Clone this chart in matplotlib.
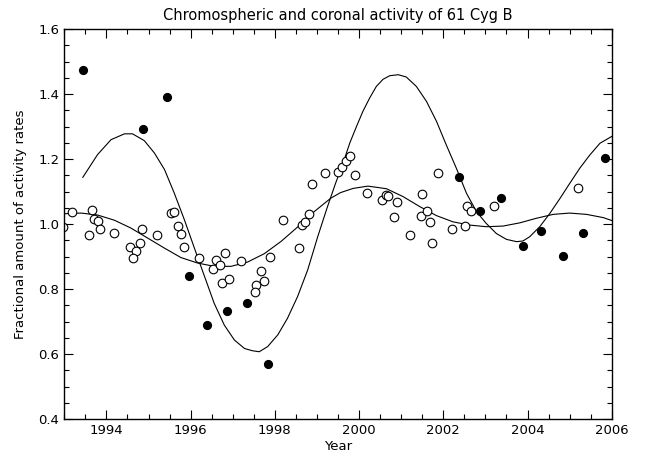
import numpy as np
import matplotlib.pyplot as plt
from matplotlib.ticker import MultipleLocator

# open circles (chromospheric data)
open_year = [1992.96, 1993.19, 1993.65, 1993.58, 1993.71, 1993.79, 1993.85, 1994.19, 1994.55, 1994.70,
             1994.62, 1994.80, 1994.85, 1995.20, 1995.54, 1995.61, 1995.69, 1995.77, 1995.85, 1996.20,
             1996.54, 1996.60, 1996.70, 1996.81, 1996.75, 1996.91, 1997.20, 1997.66, 1997.74, 1997.56,
             1997.54, 1997.89, 1998.19, 1998.57, 1998.65, 1998.71, 1998.80, 1998.89, 1999.20, 1999.51,
             1999.60, 1999.68, 1999.79, 1999.90, 2000.20, 2000.55, 2000.63, 2000.69, 2000.89, 2000.82,
             2001.20, 2001.50, 2001.46, 2001.61, 2001.69, 2001.74, 2001.88, 2002.20, 2002.51, 2002.57,
             2002.66, 2003.20, 2005.20]
open_val = [0.992, 1.038, 1.043, 0.966, 1.017, 1.009, 0.985, 0.973, 0.930, 0.917,
            0.895, 0.942, 0.986, 0.965, 1.033, 1.038, 0.995, 0.970, 0.929, 0.896,
            0.863, 0.888, 0.875, 0.910, 0.820, 0.831, 0.886, 0.855, 0.824, 0.814,
            0.791, 0.899, 1.014, 0.926, 0.996, 1.005, 1.031, 1.122, 1.158, 1.161,
            1.177, 1.193, 1.211, 1.152, 1.095, 1.075, 1.089, 1.087, 1.068, 1.021,
            0.965, 1.094, 1.026, 1.040, 1.006, 0.941, 1.157, 0.984, 0.995, 1.055,
            1.040, 1.056, 1.111]

# filled circles (coronal data)
fill_year = [1993.44, 1994.86, 1995.44, 1995.95, 1996.39, 1996.86, 1997.33, 1997.84,
             2002.37, 2002.88, 2003.36, 2003.90, 2004.33, 2004.85, 2005.32, 2005.85]
fill_val = [1.473, 1.294, 1.392, 0.841, 0.688, 0.734, 0.756, 0.570,
            1.145, 1.040, 1.081, 0.932, 0.980, 0.902, 0.972, 1.204]

# fitted cycle curves
big_year = [1993.44, 1993.79, 1994.11, 1994.43, 1994.62, 1994.90, 1995.14, 1995.38, 1995.61, 1995.85,
            1996.09, 1996.33, 1996.56, 1996.80, 1997.04, 1997.28, 1997.47, 1997.63, 1997.83, 1998.07,
            1998.30, 1998.54, 1998.78, 1999.02, 1999.24, 1999.44, 1999.62, 1999.78, 1999.94, 2000.09,
            2000.25, 2000.41, 2000.57, 2000.73, 2000.93, 2001.12, 2001.36, 2001.60, 2001.84, 2002.07,
            2002.31, 2002.55, 2002.79, 2003.02, 2003.26, 2003.50, 2003.74, 2003.89, 2004.05, 2004.29,
            2004.53, 2004.77, 2005.00, 2005.24, 2005.48, 2005.72, 2006.00]
big_val = [1.144, 1.214, 1.260, 1.278, 1.278, 1.257, 1.219, 1.168, 1.096, 1.014,
           0.926, 0.839, 0.756, 0.689, 0.643, 0.617, 0.610, 0.607, 0.623, 0.659,
           0.710, 0.777, 0.859, 0.962, 1.050, 1.125, 1.188, 1.250, 1.301, 1.347,
           1.388, 1.424, 1.446, 1.457, 1.460, 1.453, 1.424, 1.378, 1.316, 1.244,
           1.172, 1.095, 1.038, 1.002, 0.971, 0.953, 0.946, 0.948, 0.961, 0.992,
           1.033, 1.079, 1.125, 1.172, 1.213, 1.249, 1.270]

small_year = [1993.0, 1993.40, 1993.79, 1994.19, 1994.58, 1994.98, 1995.38, 1995.77, 1996.17, 1996.56,
              1996.96, 1997.35, 1997.75, 1998.15, 1998.54, 1998.94, 1999.33, 1999.56, 1999.86, 2000.21,
              2000.65, 2001.04, 2001.44, 2001.84, 2002.23, 2002.63, 2003.02, 2003.42, 2003.82, 2004.21,
              2004.61, 2005.00, 2005.40, 2005.80, 2006.0]
small_val = [1.032, 1.034, 1.028, 1.012, 0.988, 0.957, 0.926, 0.897, 0.880, 0.870,
             0.870, 0.883, 0.909, 0.947, 0.991, 1.039, 1.080, 1.097, 1.110, 1.117,
             1.109, 1.085, 1.054, 1.026, 1.007, 0.997, 0.992, 0.994, 1.004, 1.018,
             1.030, 1.034, 1.030, 1.020, 1.011]

fig = plt.figure(figsize=(6.46, 4.57), dpi=100)
ax = fig.add_axes([0.0995, 0.0832, 0.8475, 0.8528])

ax.plot(big_year, big_val, color='black', lw=0.8)
ax.plot(small_year, small_val, color='black', lw=0.8)
ax.plot(open_year, open_val, 'o', ms=6.2, mfc='white', mec='black', mew=0.8, ls='none')
ax.plot(fill_year, fill_val, 'o', ms=5.6, mfc='black', mec='black', ls='none')

ax.set_xlim(1993, 2006)
ax.set_ylim(0.4, 1.6)
ax.xaxis.set_major_locator(MultipleLocator(2))
ax.xaxis.set_minor_locator(MultipleLocator(0.5))
ax.yaxis.set_major_locator(MultipleLocator(0.2))
ax.yaxis.set_minor_locator(MultipleLocator(0.05))
ax.tick_params(which='both', direction='in', top=True, right=True, labelsize=9.5)
ax.tick_params(which='major', length=6.5, width=0.8)
ax.tick_params(which='minor', length=3.5, width=0.8)
ax.yaxis.set_major_formatter(plt.FuncFormatter(lambda v, p: '%.1f' % v))
for s in ax.spines.values():
    s.set_linewidth(1.0)

ax.set_title('Chromospheric and coronal activity of 61 Cyg B', fontsize=10.5, pad=7)
ax.set_xlabel('Year', fontsize=9.5, labelpad=2)
ax.set_ylabel('Fractional amount of activity rates', fontsize=9.5, labelpad=8)

plt.savefig('out.png', dpi=100)
